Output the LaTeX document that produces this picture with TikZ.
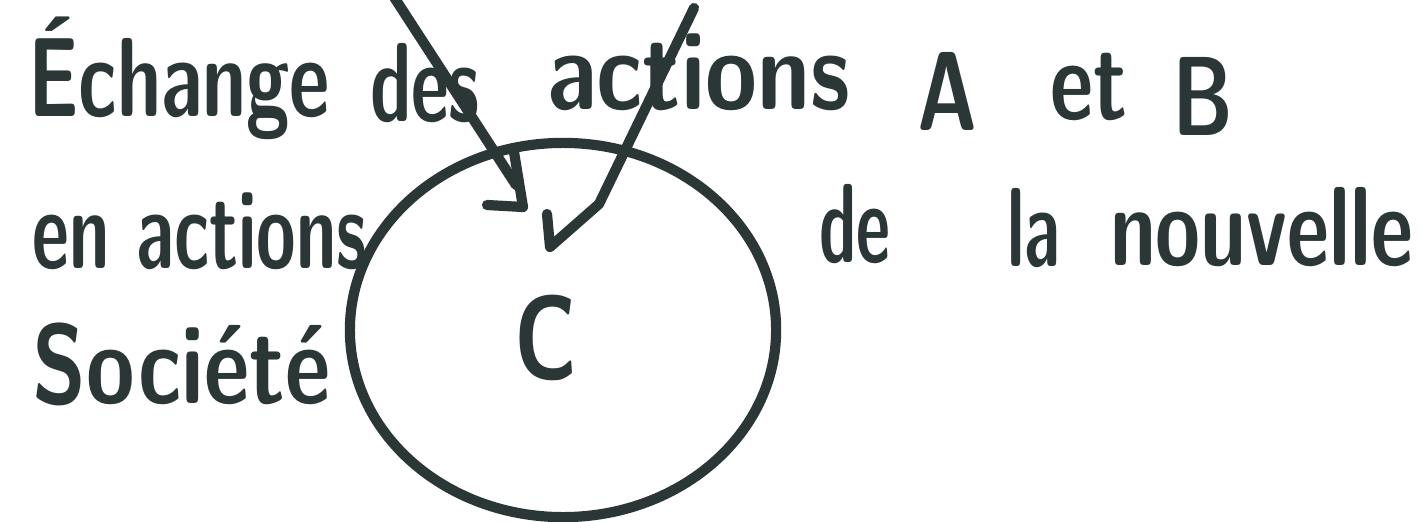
\documentclass[tikz,border=0pt]{standalone}
\usepackage{graphicx}
\usetikzlibrary{shapes.geometric}
\definecolor{ink}{RGB}{43,54,54}
\newcommand\hwfit[2]{\resizebox{#1}{\height}{#2}}
\tikzset{
  ink/.style={draw=ink, line width=2.9pt, line cap=round, line join=round},
  hw/.style={text=ink, inner sep=0pt, outer sep=0pt, anchor=base west,
    font=\fontsize{32}{38}\selectfont\sffamily\bfseries},
}
\begin{document}
\begin{tikzpicture}[x=0.01cm,y=-0.01cm]
\useasboundingbox (0,0) rectangle (1428,521);
\fill[white] (0,0) rectangle (1428,521);
% circle
\node[ink, ellipse, minimum width=4.26cm, minimum height=3.74cm, inner sep=0pt] (circ) at (563,330) {};
\node[hw, anchor=center, font=\fontsize{34}{40}\selectfont\sffamily\bfseries] (C) at (546,338) {\hwfit{0.63cm}{C}};
% line 1
\node[hw] (w1) at (28,116) {\hwfit{3.02cm}{Échange}};
\node[hw] (w2) at (370,121) {\hwfit{1.10cm}{des}};
\node[hw] (w3) at (547,109) {\hwfit{3.03cm}{actions}};
\node[hw] (w4) at (917,130) {\hwfit{0.60cm}{A}};
\node[hw] (w5) at (1050,120) {\hwfit{0.77cm}{et}};
\node[hw] (w6) at (1172,135) {\hwfit{0.61cm}{B}};
% line 2
\node[hw] (w7) at (33,268) {\hwfit{3.34cm}{en actions}};
\node[hw] (w8) at (819,262) {\hwfit{0.71cm}{de}};
\node[hw] (w9) at (1007,266) {\hwfit{0.53cm}{la}};
\node[hw] (w10) at (1110,265) {\hwfit{3.03cm}{nouvelle}};
% line 3
\node[hw] (w11) at (33,403) {\hwfit{2.97cm}{Société}};
% arrows
\coordinate (a1s) at (392,-6);
\coordinate (a1e) at (516,185);
\coordinate (a1t) at (523,207);
\coordinate (a1b1) at (514,152);
\coordinate (a1b2) at (487,205);
\coordinate (a2s) at (694,8);
\coordinate (a2e) at (599,204);
\coordinate (a2t) at (550,247);
\coordinate (a2b1) at (547,214);
\draw[ink] (a1s) -- (a1e);
\draw[ink] (a1b1) -- (a1t) -- (a1b2);
\draw[ink] (a2s) -- (a2e) -- (a2t) -- (a2b1);
\end{tikzpicture}
\end{document}
